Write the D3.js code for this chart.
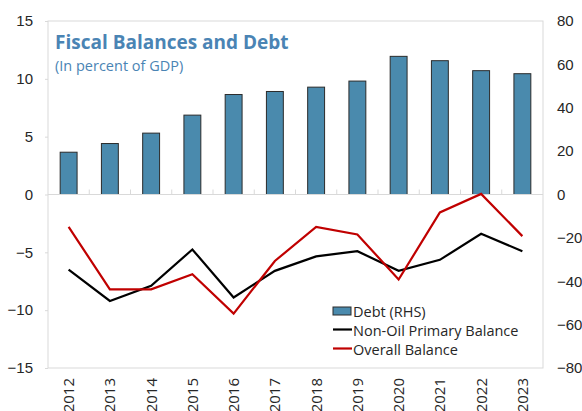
<!DOCTYPE html>
<html>
<head>
<meta charset="utf-8">
<script src="https://cdn.jsdelivr.net/npm/d3@7"></script>
<style>
  body { margin: 0; background: #fff; }
  svg { font-family: "Open Sans", "Noto Sans", sans-serif; }
</style>
</head>
<body>
<div id="chart"></div>
<script>
// Data
const years = ["2012", "2013", "2014", "2015", "2016", "2017", "2018", "2019", "2020", "2021", "2022", "2023"];
const debt = [19.5, 23.5, 28.3, 36.6, 46.1, 47.5, 49.5, 52.3, 63.7, 61.7, 57.1, 55.7];
const nonOilPrimary = [-6.5, -9.2, -7.9, -4.75, -8.9, -6.6, -5.35, -4.9, -6.6, -5.65, -3.4, -4.9];
const overall = [-2.8, -8.2, -8.2, -6.9, -10.3, -5.75, -2.8, -3.45, -7.35, -1.55, 0.05, -3.6];
const leftTicks = [15, 10, 5, 0, -5, -10, -15];
const rightTicks = [80, 60, 40, 20, 0, -20, -40, -60, -80];

const W = 582, H = 411;
const margin = {top: 21, right: 39, bottom: 43, left: 48};
const width = W - margin.left - margin.right,
      height = H - margin.top - margin.bottom;

const svg = d3.select("#chart").append("svg")
    .attr("width", W).attr("height", H);
const g = svg.append("g").attr("transform", `translate(${margin.left},${margin.top})`);

const x = d3.scaleBand().domain(years).range([0, width]).paddingInner(0.59).paddingOuter(0.295);
const xCenter = d => x(d) + x.bandwidth() / 2;
const yL = d3.scaleLinear().domain([-15, 15]).range([height, 0]);
const yR = d3.scaleLinear().domain([-80, 80]).range([height, 0]);

// plot frame
g.append("rect")
  .attr("x", 0).attr("y", 0).attr("width", width).attr("height", height)
  .attr("fill", "none").attr("stroke", "#d9d9d9").attr("stroke-width", 1);

// left axis
const axL = g.append("g")
  .call(d3.axisLeft(yL).tickValues(leftTicks).tickSize(3).tickPadding(12));
axL.select(".domain").remove();
axL.selectAll("line").attr("stroke", "#d9d9d9");
axL.selectAll("text").attr("fill", "#262626").style("font-size", "15px");

// right axis
const axR = g.append("g").attr("transform", `translate(${width},0)`)
  .call(d3.axisRight(yR).tickValues(rightTicks).tickSize(0).tickPadding(14));
axR.select(".domain").remove();
axR.selectAll("text").attr("fill", "#262626").style("font-size", "15px");

// bars (right scale)
g.selectAll(".bar")
  .data(years)
  .enter().append("rect")
  .attr("class", "bar")
  .attr("x", d => x(d))
  .attr("width", x.bandwidth())
  .attr("y", (d, i) => yR(debt[i]))
  .attr("height", (d, i) => yR(0) - yR(debt[i]))
  .attr("fill", "#4a8aad")
  .attr("stroke", "#2b2b2b")
  .attr("stroke-width", 1);

// zero line with category ticks
g.append("line")
  .attr("x1", 0).attr("x2", width)
  .attr("y1", yL(0)).attr("y2", yL(0))
  .attr("stroke", "#d9d9d9");
const step = x.step();
g.selectAll(".catTick")
  .data(years.slice(1))
  .enter().append("line")
  .attr("x1", d => x(d) - x.paddingInner() * step / 2)
  .attr("x2", d => x(d) - x.paddingInner() * step / 2)
  .attr("y1", yL(0)).attr("y2", yL(0) - 5)
  .attr("stroke", "#d9d9d9");

// lines
const line = d3.line()
  .x((d, i) => xCenter(years[i]))
  .y(d => yL(d));

g.append("path")
  .datum(nonOilPrimary)
  .attr("fill", "none")
  .attr("stroke", "#000")
  .attr("stroke-width", 2.2)
  .attr("d", line);

g.append("path")
  .datum(overall)
  .attr("fill", "none")
  .attr("stroke", "#c00000")
  .attr("stroke-width", 2.2)
  .attr("d", line);

// x labels, rotated
g.append("g").selectAll("text")
  .data(years)
  .enter().append("text")
  .attr("transform", d => `translate(${xCenter(d) + 5.5},${height + 10}) rotate(-90)`)
  .attr("text-anchor", "end")
  .attr("fill", "#262626")
  .style("font-size", "15px")
  .text(d => d);

// title
svg.append("text")
  .attr("x", 55).attr("y", 49)
  .attr("fill", "#4a84b4")
  .style("font-size", "19px")
  .style("font-weight", "bold")
  .text("Fiscal Balances and Debt");
svg.append("text")
  .attr("x", 55).attr("y", 71)
  .attr("fill", "#4a84b4")
  .style("font-size", "14.5px")
  .text("(In percent of GDP)");

// legend
const legend = svg.append("g").attr("transform", "translate(333,307)");
legend.append("rect")
  .attr("x", 0).attr("y", 0).attr("width", 18).attr("height", 8)
  .attr("fill", "#4a8aad").attr("stroke", "#2b2b2b");
legend.append("line")
  .attr("x1", 0).attr("x2", 19).attr("y1", 22.5).attr("y2", 22.5)
  .attr("stroke", "#000").attr("stroke-width", 2.2);
legend.append("line")
  .attr("x1", 0).attr("x2", 19).attr("y1", 41.5).attr("y2", 41.5)
  .attr("stroke", "#c00000").attr("stroke-width", 2.2);
const labels = ["Debt (RHS)", "Non-Oil Primary Balance", "Overall Balance"];
legend.selectAll(".lt")
  .data(labels)
  .enter().append("text")
  .attr("x", 20)
  .attr("y", (d, i) => 9.5 + i * 19)
  .attr("fill", "#262626")
  .style("font-size", "14.5px")
  .text(d => d);
</script>
</body>
</html>
